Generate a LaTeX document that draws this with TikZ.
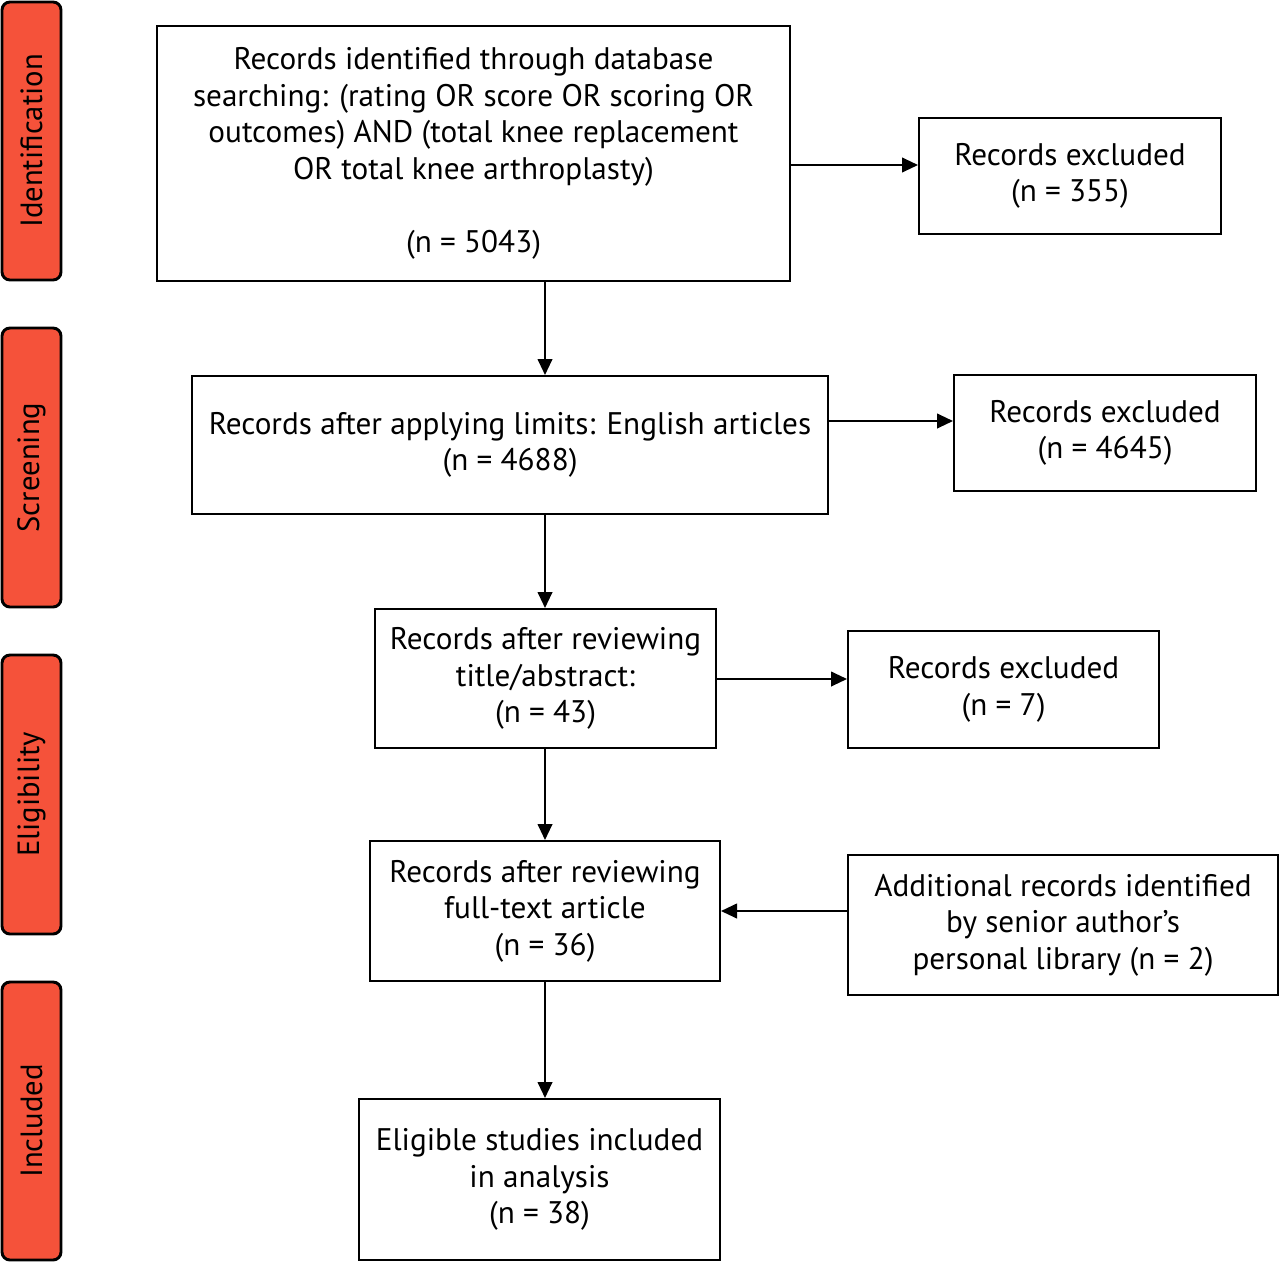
\documentclass[tikz,border=0pt]{standalone}
\usepackage{fontspec}
\setmainfont{PT Sans}
\usetikzlibrary{arrows.meta}
\definecolor{phase}{HTML}{F5523A}
\begin{document}
\begin{tikzpicture}[x=0.75pt,y=-0.75pt,
  box/.style={draw=black,line width=1.5pt,align=center,inner sep=0pt,font=\fontsize{23.4}{27.4}\selectfont},
  phasebox/.style={draw=black,line width=2.2pt,fill=phase,rounded corners=6pt,minimum width=44.25pt,inner sep=0pt,font=\fontsize{23}{26}\selectfont},
  arr/.style={line width=1.5pt,-{Triangle[length=12pt,width=11pt]}}]
\useasboundingbox (0,0) rectangle (1280,1263);
% phase labels
\node[phasebox,minimum height=208.5pt] (ph1) at (31.5,141) {\rotatebox{90}{Identification}};
\node[phasebox,minimum height=209.25pt] (ph2) at (31.5,467.5) {\rotatebox{90}{Screening}};
\node[phasebox,minimum height=209.25pt] (ph3) at (31.5,794.5) {\rotatebox{90}{Eligibility}};
\node[phasebox,minimum height=208.5pt] (ph4) at (31.5,1121) {\rotatebox{90}{Included}};
% boxes
\node[box,minimum width=474.75pt,minimum height=191.25pt] (b1) at (473.5,153.5)
  {Records identified through database\\searching: (rating OR score OR scoring OR\\outcomes) AND (total knee replacement\\OR total knee arthroplasty)\\[27.4pt](n = 5043)};
\node[box,minimum width=226.5pt,minimum height=87pt] (e1) at (1070,176) {Records excluded\\(n = 355)};
\node[box,minimum width=477pt,minimum height=103.5pt] (b2) at (510,445) {Records after applying limits: English articles\\(n = 4688)};
\node[box,minimum width=226.5pt,minimum height=87pt] (e2) at (1105,433) {Records excluded\\(n = 4645)};
\node[box,minimum width=255.75pt,minimum height=104.25pt] (b3) at (545.5,678.5) {Records after reviewing\\title/abstract:\\(n = 43)};
\node[box,minimum width=233.25pt,minimum height=87.75pt] (e3) at (1003.5,689.5) {Records excluded\\(n = 7)};
\node[box,minimum width=262.5pt,minimum height=105pt] (b4) at (545,911) {Records after reviewing\\full-text article\\(n = 36)};
\node[box,minimum width=322.5pt,minimum height=105pt] (ad) at (1063,925) {Additional records identified\\by senior author’s\\personal library (n = 2)};
\node[box,minimum width=270.75pt,minimum height=120.75pt] (b5) at (539.5,1179.5) {Eligible studies included\\in analysis\\(n = 38)};
% helper coordinates
\coordinate (vx) at (545,0);
\coordinate (h1) at (0,165);
\coordinate (h2) at (0,421);
\coordinate (h3) at (0,679);
\coordinate (h4) at (0,911);
% connectors
\draw[arr] (b1.south -| vx) -- (b2.north -| vx);
\draw[arr] (b2.south -| vx) -- (b3.north -| vx);
\draw[arr] (b3.south -| vx) -- (b4.north -| vx);
\draw[arr] (b4.south -| vx) -- (b5.north -| vx);
\draw[arr] (b1.east |- h1) -- (e1.west |- h1);
\draw[arr] (b2.east |- h2) -- (e2.west |- h2);
\draw[arr] (b3.east |- h3) -- (e3.west |- h3);
\draw[arr] (ad.west |- h4) -- (b4.east |- h4);
\end{tikzpicture}
\end{document}
